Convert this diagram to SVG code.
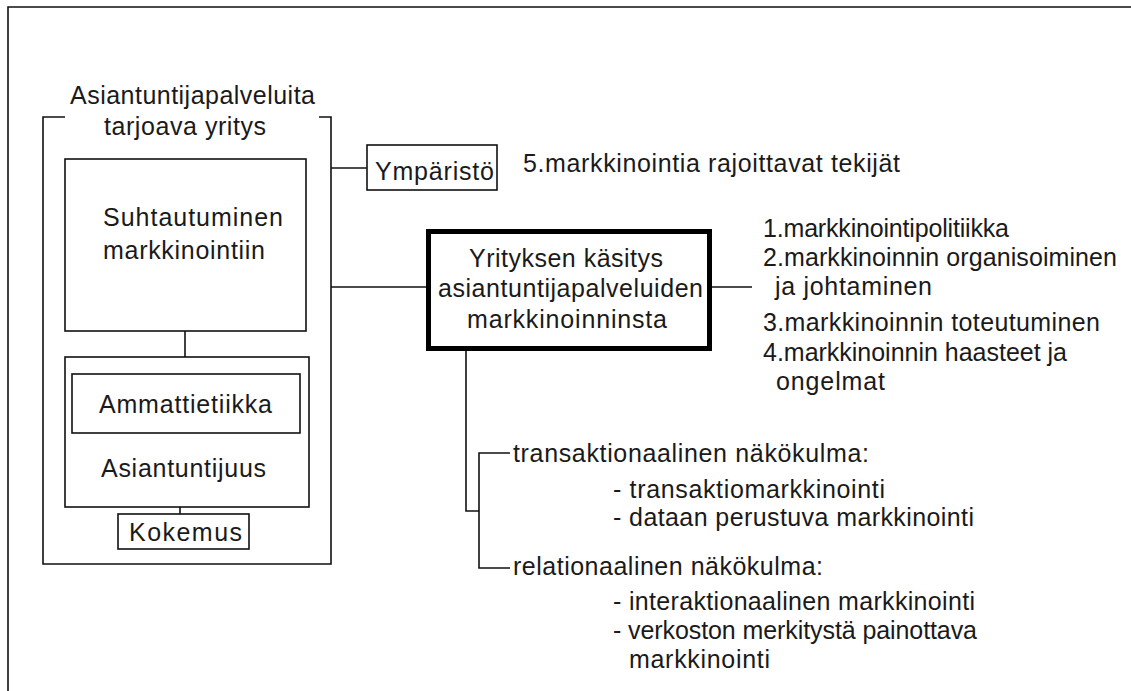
<svg xmlns="http://www.w3.org/2000/svg" width="1131" height="691" viewBox="0 0 1131 691">
<style>
text{font-family:"Liberation Sans",Arial,sans-serif;font-size:25px;fill:#1a1a1a}
.box{fill:#fff;stroke:#111;stroke-width:1.6}
.thick{fill:#fff;stroke:#000;stroke-width:5}
.ln{fill:none;stroke:#111;stroke-width:1.6}
</style>
<rect x="0" y="0" width="1131" height="691" fill="#fff"/>
<g id="frame"><path class="ln" d="M8,691 V7 H1131" stroke-width="2"/></g>
<g id="connectors">
<path class="ln" d="M331,168 H367"/>
<path class="ln" d="M331,287 H426"/>
<path class="ln" d="M712,287 H752"/>
<path class="ln" d="M185,331 V357"/>
<path class="ln" d="M180,507 V514"/>
<path class="ln" d="M466,351 V511 H479"/>
<path class="ln" d="M510,453 H479 V568 H510"/>
</g>
<g id="company">
<path class="ln" d="M65,117 H43 V564 H331 V117 H319"/>
<text x="70" y="104" textLength="245">Asiantuntijapalveluita</text>
<text x="104" y="135" textLength="162">tarjoava yritys</text>
</g>
<g id="suhtautuminen">
<rect class="box" x="65" y="159" width="241" height="172"/>
<text x="103" y="226" textLength="180">Suhtautuminen</text>
<text x="103" y="259" textLength="162">markkinointiin</text>
</g>
<g id="asiantuntijuus">
<rect class="box" x="65" y="357" width="244" height="150"/>
<text x="101" y="477" textLength="165">Asiantuntijuus</text>
</g>
<g id="ammattietiikka">
<rect class="box" x="72" y="374" width="228" height="59"/>
<text x="99" y="413" textLength="173">Ammattietiikka</text>
</g>
<g id="kokemus">
<rect class="box" x="118" y="514" width="131" height="35"/>
<text x="129" y="541" textLength="113">Kokemus</text>
</g>
<g id="ymparisto">
<rect class="box" x="367" y="145" width="130" height="45"/>
<text x="375" y="180" textLength="119">Ympäristö</text>
</g>
<g id="label5">
<text x="523" y="172" textLength="377">5.markkinointia rajoittavat tekijät</text>
</g>
<g id="yrityksen">
<rect class="thick" x="428.5" y="231.5" width="281" height="117"/>
<text x="469" y="267" textLength="194">Yrityksen käsitys</text>
<text x="438" y="297" textLength="265">asiantuntijapalveluiden</text>
<text x="467" y="328" textLength="200">markkinoinninsta</text>
</g>
<g id="list-right">
<text x="763" y="237" textLength="246">1.markkinointipolitiikka</text>
<text x="763" y="266" textLength="354">2.markkinoinnin organisoiminen</text>
<text x="775" y="295" textLength="157">ja johtaminen</text>
<text x="763" y="331" textLength="337">3.markkinoinnin toteutuminen</text>
<text x="763" y="361" textLength="304">4.markkinoinnin haasteet ja</text>
<text x="776" y="390" textLength="109">ongelmat</text>
</g>
<g id="transaktionaalinen">
<text x="513" y="462" textLength="356">transaktionaalinen näkökulma:</text>
<text x="613" y="498" textLength="272">- transaktiomarkkinointi</text>
<text x="613" y="526" textLength="361">- dataan perustuva markkinointi</text>
</g>
<g id="relationaalinen">
<text x="513" y="575" textLength="310">relationaalinen näkökulma:</text>
<text x="613" y="610" textLength="362">- interaktionaalinen markkinointi</text>
<text x="613" y="639" textLength="364">- verkoston merkitystä painottava</text>
<text x="629" y="668" textLength="141">markkinointi</text>
</g>
</svg>
